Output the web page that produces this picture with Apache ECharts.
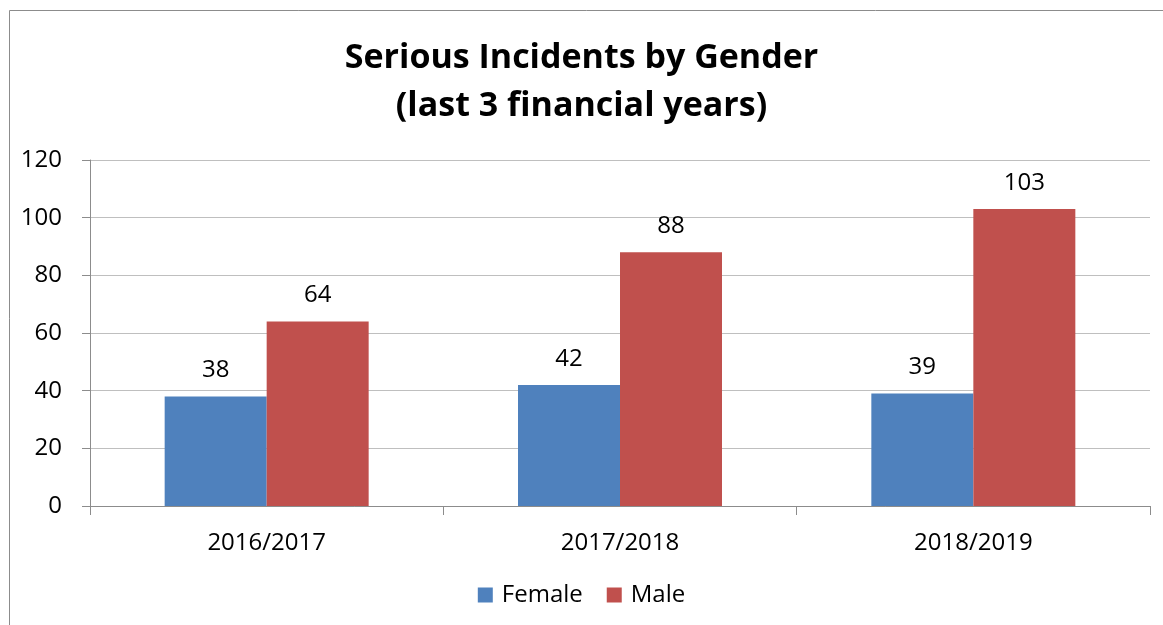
<!DOCTYPE html>
<html lang="en">
<head>
    <meta charset="utf-8">
    <title>Serious Incidents by Gender</title>
    <script src="https://cdn.jsdelivr.net/npm/echarts@6/dist/echarts.min.js"></script>
    <style>
        html, body { margin: 0; padding: 0; background: #fff; }
        #chart { width: 1163px; height: 625px; }
    </style>
</head>
<body>
<div id="chart"></div>
<script>
    // data
    var years = ['2016/2017', '2017/2018', '2018/2019'];
    var female = [38, 42, 39];
    var male = [64, 88, 103];
    var yTicks = { min: 0, max: 120, interval: 20 };

    var font = '"Open Sans", "Liberation Sans", sans-serif';

    var myChart = echarts.init(document.getElementById('chart'));
    myChart.setOption({
        backgroundColor: '#fff',
        animation: false,
        textStyle: { fontFamily: font },
        title: {
            text: 'Serious Incidents by Gender\n(last 3 financial years)',
            left: 'center',
            top: 29,
            textStyle: {
                fontFamily: font,
                fontSize: 34,
                fontWeight: 'bold',
                color: '#000',
                lineHeight: 48
            }
        },
        // outer frame, only its top and left edges are in view
        graphic: [{
            type: 'rect',
            shape: { x: 9.5, y: 10.5, width: 1300, height: 800 },
            style: { fill: 'none', stroke: '#8c8c8c', lineWidth: 1 },
            silent: true
        }],
        legend: {
            bottom: 13,
            left: 'center',
            itemWidth: 15,
            itemHeight: 15,
            itemGap: 24,
            icon: 'rect',
            textStyle: { fontFamily: font, fontSize: 24, color: '#000', padding: [0, 0, 0, 4] },
            data: ['Female', 'Male']
        },
        grid: { left: 90, right: 13, top: 160, bottom: 119 },
        xAxis: {
            type: 'category',
            data: years,
            axisLine: { lineStyle: { color: '#8c8c8c' } },
            axisTick: { show: true, length: 9, alignWithLabel: false, lineStyle: { color: '#8c8c8c' } },
            axisLabel: { color: '#000', fontSize: 24, margin: 25, fontFamily: font }
        },
        yAxis: {
            type: 'value',
            min: yTicks.min,
            max: yTicks.max,
            interval: yTicks.interval,
            axisLine: { show: true, lineStyle: { color: '#8c8c8c' } },
            axisTick: { show: true, length: 8, lineStyle: { color: '#8c8c8c' } },
            axisLabel: { color: '#000', fontSize: 24, margin: 28, fontFamily: font },
            splitLine: { lineStyle: { color: '#bfbfbf' } }
        },
        series: [
            {
                name: 'Female',
                type: 'bar',
                data: female,
                barWidth: 102,
                barGap: '0%',
                itemStyle: { color: '#4F81BD' },
                label: { show: true, position: 'top', distance: 14, color: '#000', fontSize: 24, fontFamily: font }
            },
            {
                name: 'Male',
                type: 'bar',
                data: male,
                barWidth: 102,
                barGap: '0%',
                itemStyle: { color: '#C0504D' },
                label: { show: true, position: 'top', distance: 14, color: '#000', fontSize: 24, fontFamily: font }
            }
        ]
    });
</script>
</body>
</html>
